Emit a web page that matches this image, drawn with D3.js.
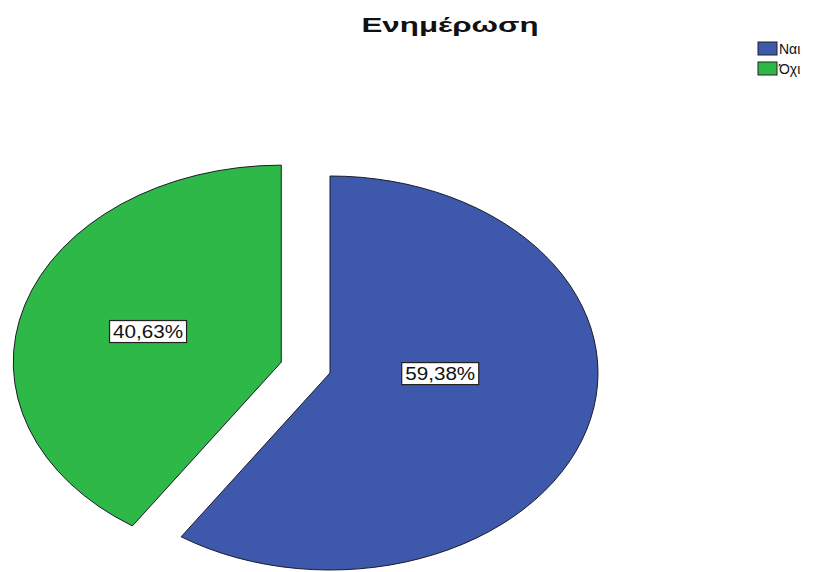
<!DOCTYPE html>
<html>
<head>
<meta charset="utf-8">
<script src="https://cdn.jsdelivr.net/npm/d3@7"></script>
<style>
  html, body { margin: 0; padding: 0; background: #fff; }
  svg { display: block; }
  text { font-family: "Liberation Sans", Arial, sans-serif; }
</style>
</head>
<body>
<svg id="chart" width="817" height="572"></svg>
<script>
// Data
const title = "Ενημέρωση";
const categories = ["Ναι", "Όχι"];
const percents = [59.38, 40.63];
const colors = ["#3E58AC", "#2EB848"];
const explodedSlice = "Όχι";

// Layout
const W = 817, H = 572;
const cx = 330, cy = 373;        // pie centre
const rx = 268, ry = 197;        // elliptical radii
const explodeFrac = 0.19;        // how far the exploded slice is pulled out
const labelFrac = 0.5;
const labelNudge = { "Ναι": [-18, -28], "Όχι": [-5, -2] };

const svg = d3.select("#chart");

const pie = d3.pie().sort(null).value(d => d.v);
const arcs = pie(categories.map((c, i) => ({ c, v: percents[i], color: colors[i] })));
const arc = d3.arc().innerRadius(0).outerRadius(ry);

// point on the ellipse at angle a (radians, clockwise from 12 o'clock), scaled by f
const ell = (a, f) => [f * rx * Math.sin(a), -f * ry * Math.cos(a)];

const slices = svg.append("g");
arcs.forEach(d => {
  const mid = (d.startAngle + d.endAngle) / 2;
  const off = d.data.c === explodedSlice ? ell(mid, explodeFrac) : [0, 0];
  const ox = cx + off[0], oy = cy + off[1];
  slices.append("path")
    .attr("d", arc(d))
    .attr("transform", `translate(${ox},${oy}) scale(${rx / ry},1)`)
    .attr("fill", d.data.color)
    .attr("stroke", "#1b1b2a")
    .attr("stroke-width", 1)
    .attr("vector-effect", "non-scaling-stroke");
  d.vertex = [ox, oy];
  d.mid = mid;
});

// Percentage labels in white boxes
const fmt = v => v.toFixed(2).replace(".", ",") + "%";
arcs.forEach(d => {
  const p = ell(d.mid, labelFrac);
  const n = labelNudge[d.data.c] || [0, 0];
  const lx = d.vertex[0] + p[0] + n[0];
  const ly = d.vertex[1] + p[1] + n[1];
  const bw = 77, bh = 22;
  const g = svg.append("g").attr("transform", `translate(${lx},${ly})`);
  g.append("rect")
    .attr("x", -bw / 2).attr("y", -bh / 2)
    .attr("width", bw).attr("height", bh)
    .attr("fill", "#fff").attr("stroke", "#222").attr("stroke-width", 1.2);
  g.append("text")
    .attr("text-anchor", "middle")
    .attr("y", 6.5)
    .attr("font-size", 18)
    .attr("textLength", 70)
    .attr("lengthAdjust", "spacingAndGlyphs")
    .attr("fill", "#111")
    .text(fmt(d.data.v));
});

// Title
svg.append("text")
  .attr("x", 450).attr("y", 32)
  .attr("text-anchor", "middle")
  .attr("font-size", 21)
  .attr("font-weight", "bold")
  .attr("textLength", 177)
  .attr("lengthAdjust", "spacingAndGlyphs")
  .attr("fill", "#111")
  .text(title);

// Legend
const legend = svg.append("g").attr("transform", "translate(758,42)");
categories.forEach((c, i) => {
  const row = legend.append("g").attr("transform", `translate(0,${i * 20})`);
  row.append("rect")
    .attr("width", 19).attr("height", 13)
    .attr("fill", colors[i]).attr("stroke", "#222").attr("stroke-width", 1);
  row.append("text")
    .attr("x", 21).attr("y", 12)
    .attr("font-size", 14)
    .attr("fill", "#111")
    .text(c);
});
</script>
</body>
</html>
